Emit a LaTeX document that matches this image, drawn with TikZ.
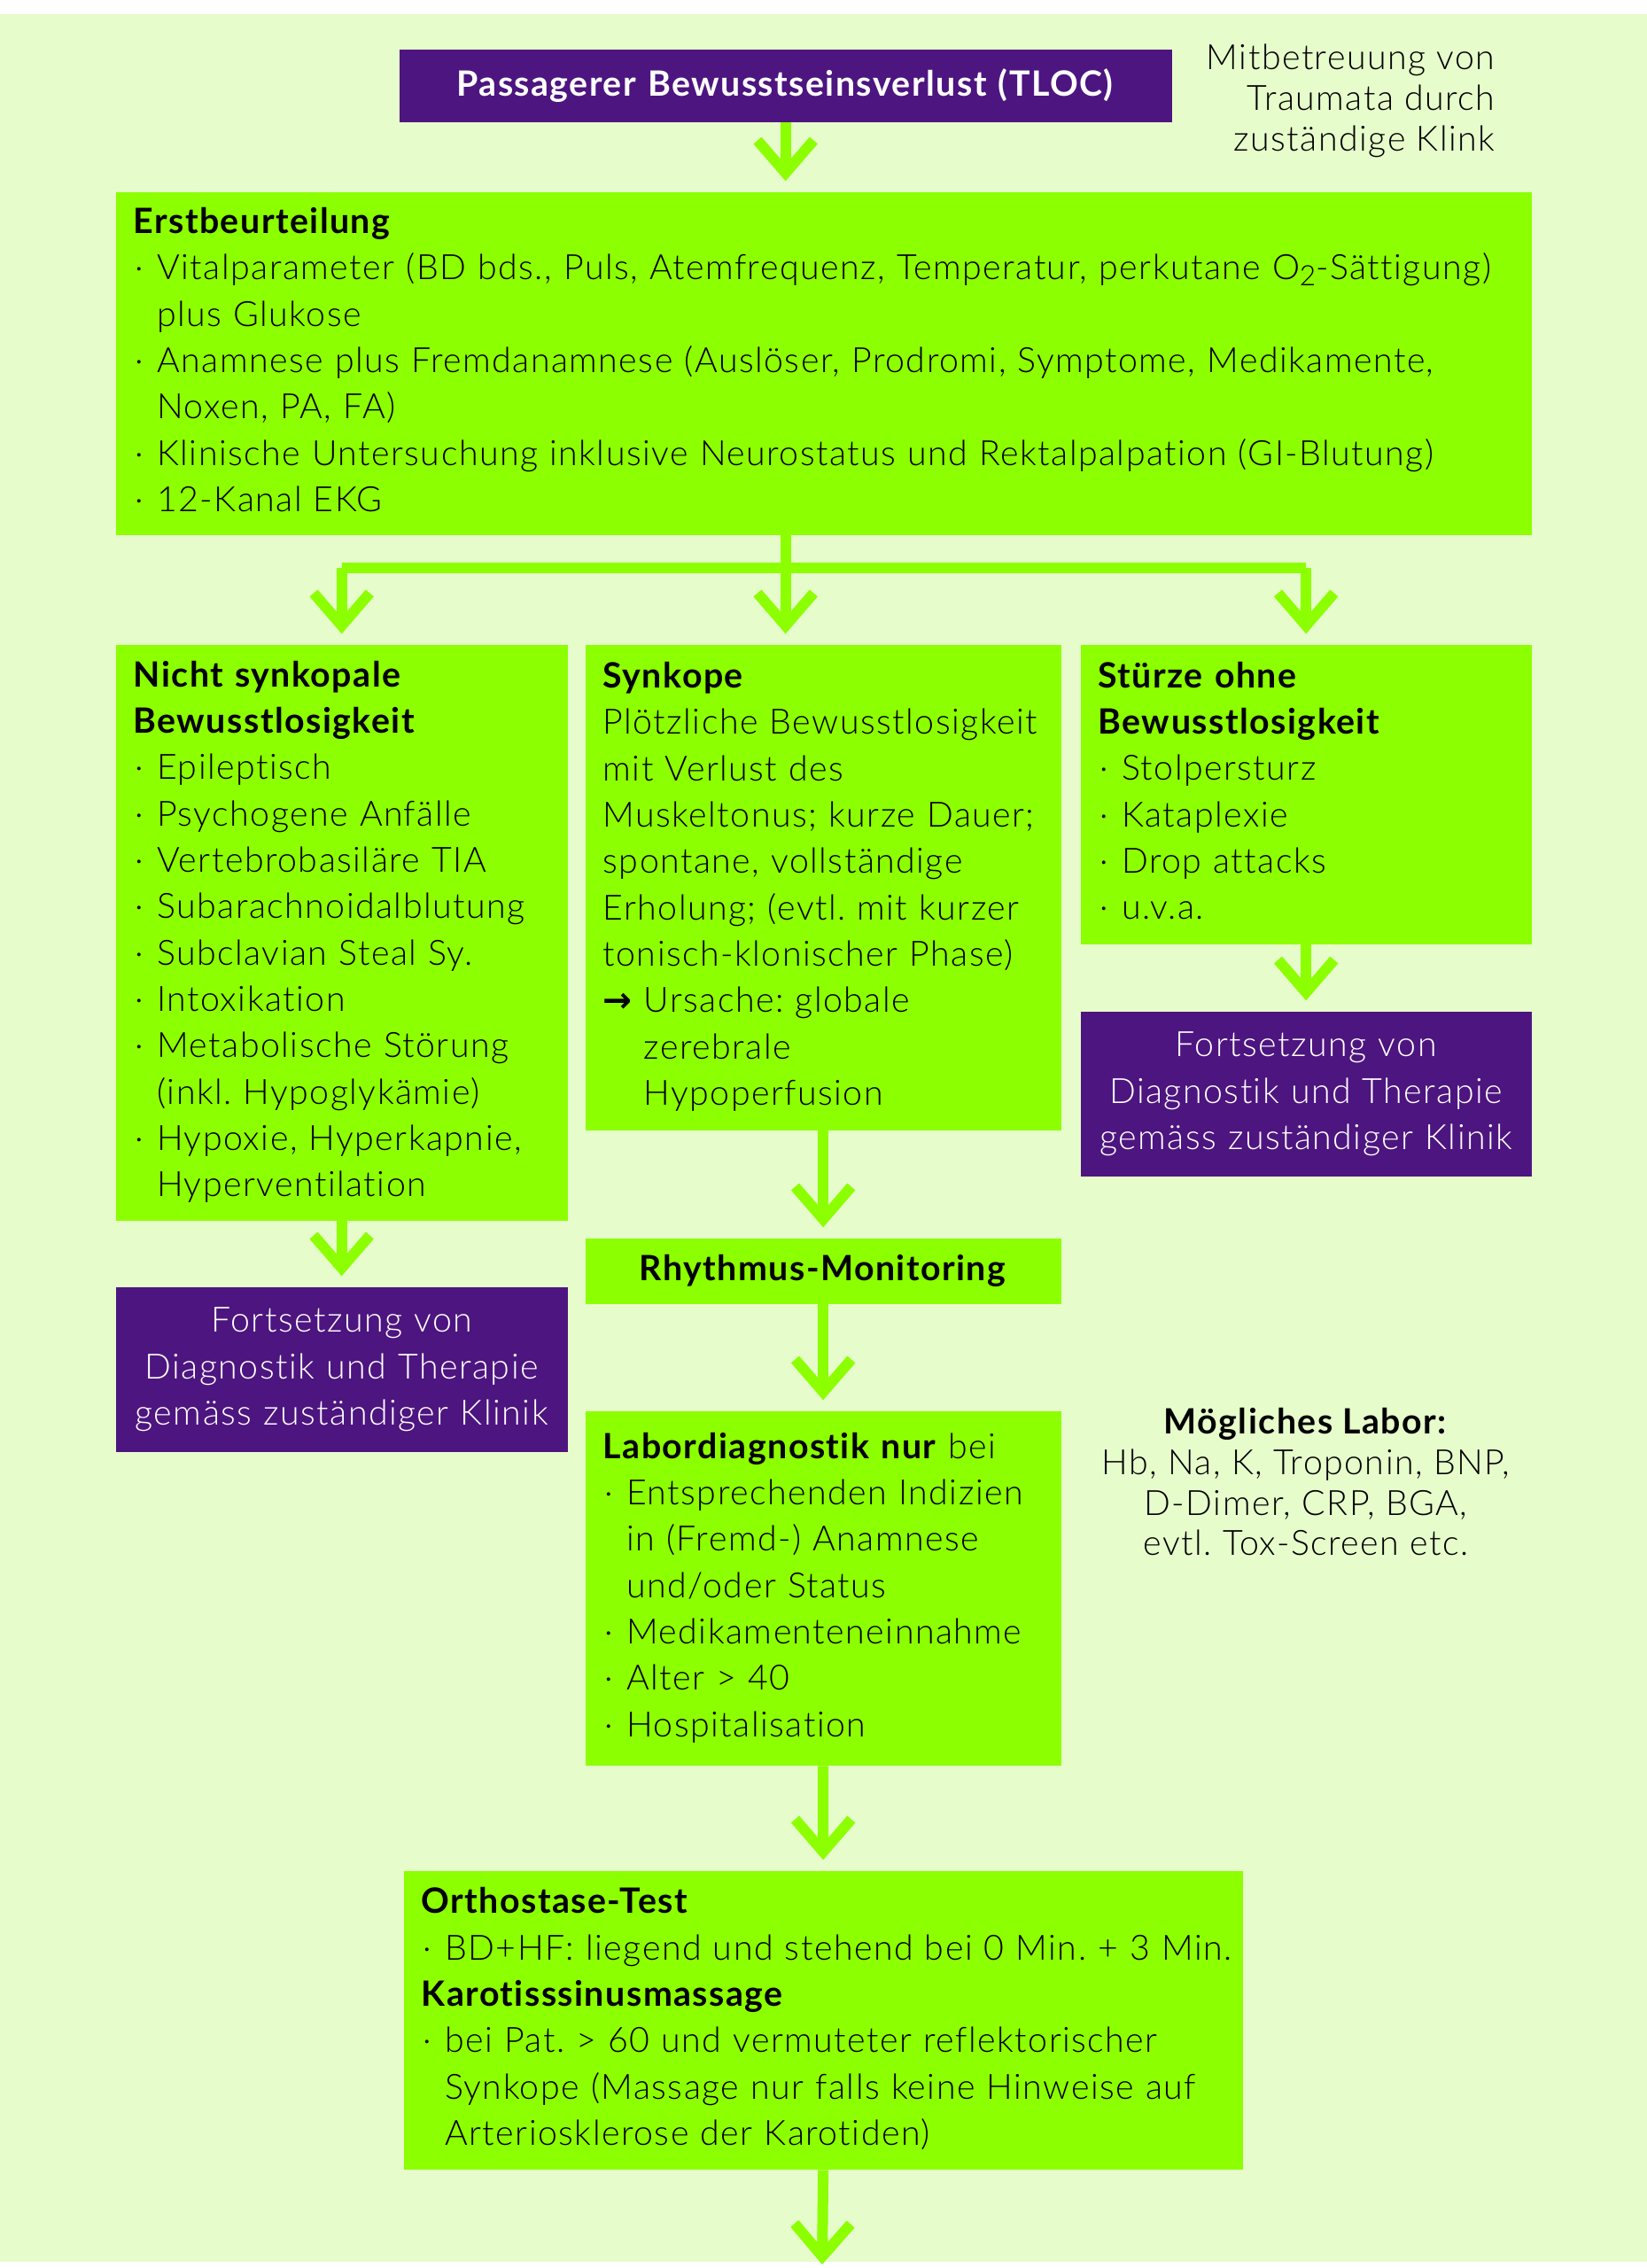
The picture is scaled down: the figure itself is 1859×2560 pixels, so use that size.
\documentclass[tikz,border=0pt]{standalone}
\usepackage{fontspec}
\setmainfont{Lato Light}[BoldFont={Lato Bold}, LetterSpace=3.7, Ligatures=NoCommon]
\newfontfamily\arrowfont{DejaVu Sans}
\usetikzlibrary{arrows.meta}
\definecolor{bg}{HTML}{E7FCCB}
\definecolor{lg}{HTML}{8CFF00}
\definecolor{pu}{HTML}{4D1580}
\frenchspacing
\newcommand\bl{\makebox[8pt][l]{\hspace{0.6pt}·}}
\newcommand\ind{\hspace*{8pt}}
\newcommand\tb[1]{\begin{tabular}{@{}l@{}}#1\end{tabular}}
\newcommand\tbc[1]{\begin{tabular}{@{}c@{}}#1\end{tabular}}
\tikzset{
  box/.style={rectangle, anchor=north west, inner xsep=6pt, inner ysep=0pt, align=left,
    font=\fontsize{11.8}{15.7}\selectfont},
  gbox/.style={box, fill=lg, text=black},
  pbox/.style={box, fill=pu, text=white, align=center, inner xsep=3pt},
  side/.style={inner sep=0pt, font=\fontsize{11.8}{13.7}\selectfont},
  conn/.style={draw=lg, line width=3.6pt},
  arr/.style={conn, -{Straight Barb[length=11pt,width=19pt,line width=3.6pt]}, shorten >=3.5pt}
}
\begin{document}
\begin{tikzpicture}[x=0.3pt,y=-0.3pt]
\useasboundingbox (0,0) rectangle (1859,2560);
\fill[bg] (0,16) rectangle (1859,2553);

\node[pbox, text width=255.6pt, minimum height=24.6pt] (tloc) at (450,55)
  {\textbf{Passagerer Bewusstseinsverlust (TLOC)}};

\node[side, anchor=east, align=right] (mit) at (1688,114)
  {Mitbetreuung von\\Traumata durch\\zuständige Klink};

\node[gbox, text width=467.4pt, minimum height=116.1pt] (erst) at (130,216) {\tb{%
\textbf{Erstbeurteilung}\\
\bl Vitalparameter (BD bds., Puls, Atemfrequenz, Temperatur, perkutane O\raisebox{-0.35ex}{\fontsize{9.5}{9.5}\selectfont 2}-Sättigung)\\
\ind plus Glukose\\
\bl Anamnese plus Fremdanamnese (Auslöser, Prodromi, Symptome, Medikamente,\\
\ind Noxen, PA, FA)\\
\bl Klinische Untersuchung inklusive Neurostatus und Rektalpalpation (GI-Blutung)\\
\bl 12-Kanal EKG}};

\node[gbox, text width=141pt, minimum height=195pt] (nsb) at (130,727) {\tb{%
\textbf{Nicht synkopale}\\
\textbf{Bewusstlosigkeit}\\
\bl Epileptisch\\
\bl Psychogene Anfälle\\
\bl Vertebrobasiläre TIA\\
\bl Subarachnoidalblutung\\
\bl Subclavian Steal Sy.\\
\bl Intoxikation\\
\bl Metabolische Störung\\
\ind (inkl. Hypoglykämie)\\
\bl Hypoxie, Hyperkapnie,\\
\ind Hyperventilation}};

\node[gbox, text width=149.1pt, minimum height=164.4pt] (syn) at (660,727) {\tb{%
\textbf{Synkope}\\
Plötzliche Bewusstlosigkeit\\
mit Verlust des\\
Muskeltonus; kurze Dauer;\\
spontane, vollständige\\
Erholung; (evtl. mit kurzer\\
tonisch-klonischer Phase)\\
\makebox[13.8pt][l]{\arrowfont\bfseries →}Ursache: globale\\
\hspace*{13.8pt}zerebrale\\
\hspace*{13.8pt}Hypoperfusion}};

\node[gbox, text width=140.7pt, minimum height=101.4pt] (stu) at (1219,727) {\tb{%
\textbf{Stürze ohne}\\
\textbf{Bewusstlosigkeit}\\
\bl Stolpersturz\\
\bl Kataplexie\\
\bl Drop attacks\\
\bl u.v.a.}};

\node[pbox, text width=146.7pt, minimum height=55.8pt] (fortR) at (1219,1141)
  {\tbc{Fortsetzung von\\Diagnostik und Therapie\\gemäss zuständiger Klinik}};

\node[pbox, text width=147pt, minimum height=55.8pt] (fortL) at (130,1452)
  {\tbc{Fortsetzung von\\Diagnostik und Therapie\\gemäss zuständiger Klinik}};

\node[gbox, align=center, text width=149.1pt, minimum height=22.2pt] (rhy) at (660,1397)
  {\textbf{Rhythmus-Monitoring}};

\node[gbox, text width=149.1pt, minimum height=120pt] (lab) at (660,1592) {\tb{%
\textbf{Labordiagnostik nur} bei\\
\bl Entsprechenden Indizien\\
\ind in (Fremd-) Anamnese\\
\ind und/oder Status\\
\bl Medikamenteneinnahme\\
\bl Alter > 40\\
\bl Hospitalisation}};

\node[side, align=center] (mlab) at (1474,1673)
  {\textbf{Mögliches Labor:}\\Hb, Na, K, Troponin, BNP,\\D-Dimer, CRP, BGA,\\evtl. Tox-Screen etc.};

\node[gbox, text width=272.1pt, minimum height=101.1pt] (orth) at (455,2111) {\tb{%
\textbf{Orthostase-Test}\\
\bl BD+HF: liegend und stehend bei 0 Min. + 3 Min.\\
\textbf{Karotisssinusmassage}\\
\bl bei Pat. > 60 und vermuteter reflektorischer\\
\ind Synkope (Massage nur falls keine Hinweise auf\\
\ind Arteriosklerose der Karotiden)}};

\coordinate (endp) at (928,2556);

% connectors
\draw[arr] (tloc.south) -- (tloc.south |- erst.north);
\draw[conn] (tloc.south |- erst.south) -- ++(0,37) coordinate (bj);
\draw[conn, line cap=square] (nsb.north |- bj) -- (stu.north |- bj);
\draw[arr] (nsb.north |- bj) -- (nsb.north);
\draw[arr] (bj) -- (bj |- syn.north);
\draw[arr] (stu.north |- bj) -- (stu.north);
\draw[arr] (stu.south) -- (fortR.north);
\draw[arr] (nsb.south) -- (fortL.north);
\draw[arr] (syn.south) -- (rhy.north);
\draw[arr] (rhy.south) -- (lab.north);
\draw[arr] (lab.south) -- (orth.north);
\draw[arr, shorten >=0pt] (orth.south) -- (endp);
\end{tikzpicture}
\end{document}
